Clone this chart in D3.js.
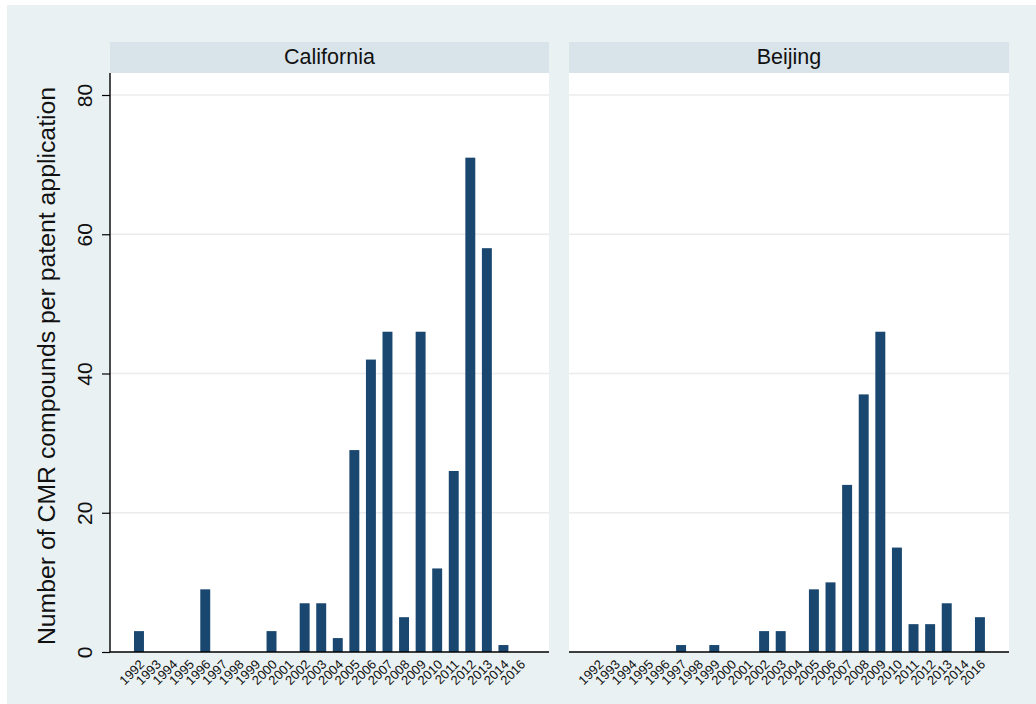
<!DOCTYPE html>
<html>
<head>
<meta charset="utf-8">
<script src="https://cdn.jsdelivr.net/npm/d3@7/dist/d3.min.js"></script>
<style>
  html, body { margin: 0; padding: 0; background: #ffffff; }
  svg { display: block; font-family: "Liberation Sans", Arial, Helvetica, sans-serif; }
</style>
</head>
<body>
<svg id="chart" width="1036" height="704"></svg>
<script>
// Years on the category axis (2015 has no entry)
const years = ["1992","1993","1994","1995","1996","1997","1998","1999","2000","2001",
  "2002","2003","2004","2005","2006","2007","2008","2009","2010","2011","2012","2013","2014","2016"];

// CMR compounds per patent application, by year
const californiaValues = [3,0,0,0,9,0,0,0,3,0,7,7,2,29,42,46,5,46,12,26,71,58,1,0];
const beijingValues    = [0,0,0,0,0,1,0,1,0,0,3,3,0,9,10,24,37,46,15,4,4,7,0,5];

const panelTitles = ["California", "Beijing"];
const yTicks = [0, 20, 40, 60, 80];
const yTitle = "Number of CMR compounds per patent application";

const svg = d3.select("#chart");
const W = 1036, H = 704;

// layout
const outer = { x: 7, y: 5 };
const plotTop = 73, headerTop = 42, axisY = 652;
const panels = [
  { title: panelTitles[0], values: californiaValues, x0: 110, x1: 549, yAxis: true },
  { title: panelTitles[1], values: beijingValues,    x0: 569, x1: 1009, yAxis: false }
];

const barColor = "#1a476f";
const bgColor = "#eaf1f3";
const stripColor = "#d9e4ea";
const gridColor = "#ececec";

// background
svg.append("rect").attr("x", outer.x).attr("y", outer.y)
  .attr("width", W - outer.x).attr("height", H - outer.y).attr("fill", bgColor);

const y = d3.scaleLinear().domain([0, 80]).range([axisY, 95]);

panels.forEach(p => {
  const g = svg.append("g");

  // header strip
  g.append("rect").attr("x", p.x0).attr("y", headerTop)
    .attr("width", p.x1 - p.x0).attr("height", plotTop - headerTop).attr("fill", stripColor);
  g.append("text").attr("x", (p.x0 + p.x1) / 2).attr("y", 64)
    .attr("text-anchor", "middle").attr("font-size", 21.5).attr("fill", "#111")
    .text(p.title);

  // plot region
  g.append("rect").attr("x", p.x0).attr("y", plotTop)
    .attr("width", p.x1 - p.x0).attr("height", axisY - plotTop).attr("fill", "#ffffff");

  // gridlines
  g.append("g").selectAll("line").data(yTicks.filter(t => t > 0)).join("line")
    .attr("x1", p.x0).attr("x2", p.x1)
    .attr("y1", d => y(d)).attr("y2", d => y(d))
    .attr("stroke", gridColor).attr("stroke-width", 1.5);

  const x = d3.scaleBand().domain(years).range([p.x0, p.x1])
    .paddingInner(0.4).paddingOuter(1.45);

  // bars
  g.append("g").selectAll("rect").data(years.map((yr, i) => ({ yr, v: p.values[i] })))
    .join("rect")
    .attr("x", d => x(d.yr)).attr("width", x.bandwidth())
    .attr("y", d => y(d.v)).attr("height", d => axisY - y(d.v))
    .attr("fill", barColor);

  // x axis
  const xAxis = g.append("g").attr("transform", `translate(0,${axisY})`)
    .call(d3.axisBottom(x).tickSize(0).tickPadding(0));
  xAxis.attr("font-family", null);
  xAxis.select(".domain").attr("d", `M${p.x0},0H${p.x1}`).attr("stroke", "#000").attr("stroke-width", 1.4);
  xAxis.selectAll(".tick text")
    .attr("font-size", 13).attr("fill", "#111")
    .attr("text-anchor", "end")
    .attr("dy", "0.35em")
    .attr("transform", "translate(3,10) rotate(-45)");

  if (p.yAxis) {
    const yAxis = g.append("g").attr("transform", `translate(${p.x0},0)`)
      .call(d3.axisLeft(y).tickValues(yTicks).tickSize(8).tickPadding(0).tickSizeOuter(0));
    yAxis.attr("font-family", null);
    yAxis.select(".domain").attr("d", `M0,${plotTop}V${axisY}`).attr("stroke", "#000").attr("stroke-width", 1.4);
    yAxis.selectAll(".tick line").attr("stroke", "#000").attr("stroke-width", 1.2);
    yAxis.selectAll(".tick text")
      .attr("font-size", 21).attr("fill", "#111")
      .attr("x", null).attr("dy", null)
      .attr("text-anchor", "middle")
      .attr("transform", "translate(-18,0) rotate(-90)");
  }
});

// y axis title
svg.append("text")
  .attr("transform", "translate(55,366) rotate(-90)")
  .attr("text-anchor", "middle").attr("font-size", 24.8).attr("fill", "#111")
  .text(yTitle);
</script>
</body>
</html>
